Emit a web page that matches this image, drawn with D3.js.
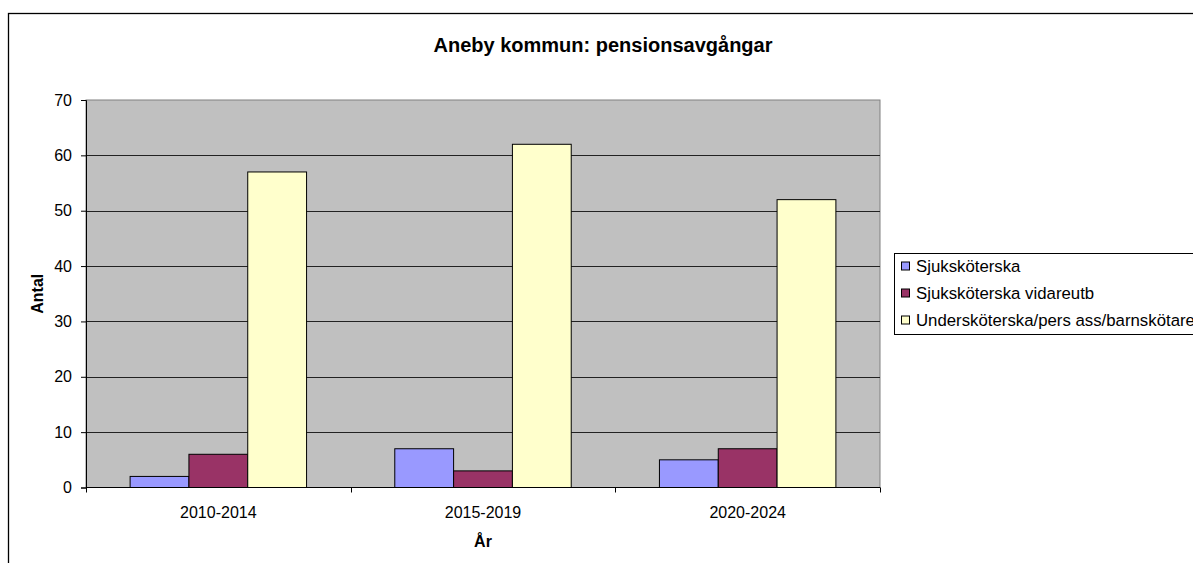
<!DOCTYPE html>
<html>
<head>
<meta charset="utf-8">
<script src="https://cdnjs.cloudflare.com/ajax/libs/d3/7.8.5/d3.min.js"></script>
<style>
  body { margin: 0; background: #fff; }
  text { font-family: "Liberation Sans", Arial, sans-serif; fill: #000; }
</style>
</head>
<body>
<svg id="chart" width="1193" height="563"></svg>
<script>
// data
var periods = ["2010-2014", "2015-2019", "2020-2024"];
var seriesNames = ["Sjuksköterska", "Sjuksköterska vidareutb", "Undersköterska/pers ass/barnskötare"];
var sjukskoterska = [2, 7, 5];
var sjukVidareutb = [6, 3, 7];
var underskoterska = [57, 62, 52];
var yTicks = [0, 10, 20, 30, 40, 50, 60, 70];
var colors = ["#9999ff", "#993366", "#ffffcc"];

(function(){
    var svg = d3.select("#chart");
    var plot = {left: 86, right: 880, top: 100, bottom: 487.5};

    // chart area border
    svg.append("rect")
        .attr("x", 8.5).attr("y", 13.5)
        .attr("width", 1200).attr("height", 600)
        .attr("fill", "#fff").attr("stroke", "#000").attr("stroke-width", 1.3);

    var x0 = d3.scaleBand().domain(periods).range([plot.left, plot.right]);
    var x1 = d3.scaleBand().domain(d3.range(seriesNames.length))
        .range([0, x0.bandwidth()]).paddingOuter(0.75).paddingInner(0);
    var y = d3.scaleLinear().domain([0, 70]).range([plot.bottom, plot.top]);

    // plot background
    svg.append("rect")
        .attr("x", plot.left).attr("y", plot.top)
        .attr("width", plot.right - plot.left).attr("height", plot.bottom - plot.top)
        .attr("fill", "#c0c0c0").attr("stroke", "#808080").attr("stroke-width", 1);

    // gridlines
    svg.append("g").selectAll("line")
        .data(yTicks.filter(function(d){ return d > 0 && d < 70; }))
        .enter().append("line")
        .attr("x1", plot.left).attr("x2", plot.right)
        .attr("y1", function(d){ return Math.round(y(d)) + 0.5; })
        .attr("y2", function(d){ return Math.round(y(d)) + 0.5; })
        .attr("stroke", "#222").attr("stroke-width", 1);

    var table = [sjukskoterska, sjukVidareutb, underskoterska];

    var groups = svg.append("g").selectAll("g")
        .data(periods)
        .enter().append("g")
        .attr("transform", function(d){ return "translate(" + x0(d) + ",0)"; });

    groups.selectAll("rect")
        .data(function(d, i){
            return table.map(function(s, k){ return {k: k, v: s[i]}; });
        })
        .enter().append("rect")
        .attr("x", function(d){ return x1(d.k); })
        .attr("y", function(d){ return y(d.v); })
        .attr("width", x1.bandwidth())
        .attr("height", function(d){ return y(0) - y(d.v); })
        .attr("fill", function(d){ return colors[d.k]; })
        .attr("stroke", "#000").attr("stroke-width", 1);

    // y axis
    var yAxis = svg.append("g")
        .attr("transform", "translate(" + plot.left + ",0)")
        .call(d3.axisLeft(y).tickValues(yTicks).tickSize(5).tickPadding(9));
    yAxis.select(".domain").attr("stroke", "#000");
    yAxis.selectAll("text").style("font-size", "16px")
        .style("font-family", "'Liberation Sans', Arial, sans-serif");

    // x axis, ticks between categories
    var xAxis = svg.append("g")
        .attr("transform", "translate(0," + plot.bottom + ")");
    xAxis.append("line")
        .attr("x1", plot.left).attr("x2", plot.right)
        .attr("stroke", "#000");
    xAxis.selectAll(".tk")
        .data(periods.concat(["end"]))
        .enter().append("line")
        .attr("x1", function(d, i){ return Math.round(plot.left + i * x0.step()) + 0.5; })
        .attr("x2", function(d, i){ return Math.round(plot.left + i * x0.step()) + 0.5; })
        .attr("y1", 0).attr("y2", 5)
        .attr("stroke", "#000");
    xAxis.selectAll(".lbl")
        .data(periods)
        .enter().append("text")
        .attr("x", function(d){ return x0(d) + x0.bandwidth() / 2; })
        .attr("y", 30)
        .attr("text-anchor", "middle")
        .style("font-size", "16px")
        .text(function(d){ return d; });

    // titles
    svg.append("text")
        .attr("x", 603).attr("y", 52)
        .attr("text-anchor", "middle")
        .style("font-size", "20px").style("font-weight", "bold")
        .text("Aneby kommun: pensionsavgångar");
    svg.append("text")
        .attr("x", (plot.left + plot.right) / 2).attr("y", 547)
        .attr("text-anchor", "middle")
        .style("font-size", "16px").style("font-weight", "bold")
        .text("År");
    svg.append("text")
        .attr("transform", "translate(43," + (plot.top + plot.bottom) / 2 + ") rotate(-90)")
        .attr("text-anchor", "middle")
        .style("font-size", "16px").style("font-weight", "bold")
        .text("Antal");

    // legend
    var lg = svg.append("g").attr("transform", "translate(894,253)");
    lg.append("rect")
        .attr("x", 0.5).attr("y", 0.5)
        .attr("width", 320).attr("height", 81)
        .attr("fill", "#fff").attr("stroke", "#000");
    var item = lg.selectAll(".item")
        .data(seriesNames)
        .enter().append("g")
        .attr("transform", function(d, i){ return "translate(0," + (13.5 + i * 27) + ")"; });
    item.append("rect")
        .attr("x", 7.5).attr("y", -4.5)
        .attr("width", 8).attr("height", 8)
        .attr("fill", function(d, i){ return colors[i]; })
        .attr("stroke", "#000");
    item.append("text")
        .attr("x", 22).attr("y", 0).attr("dy", "0.35em")
        .style("font-size", "16.8px")
        .text(function(d){ return d; });
})();
</script>
</body>
</html>
